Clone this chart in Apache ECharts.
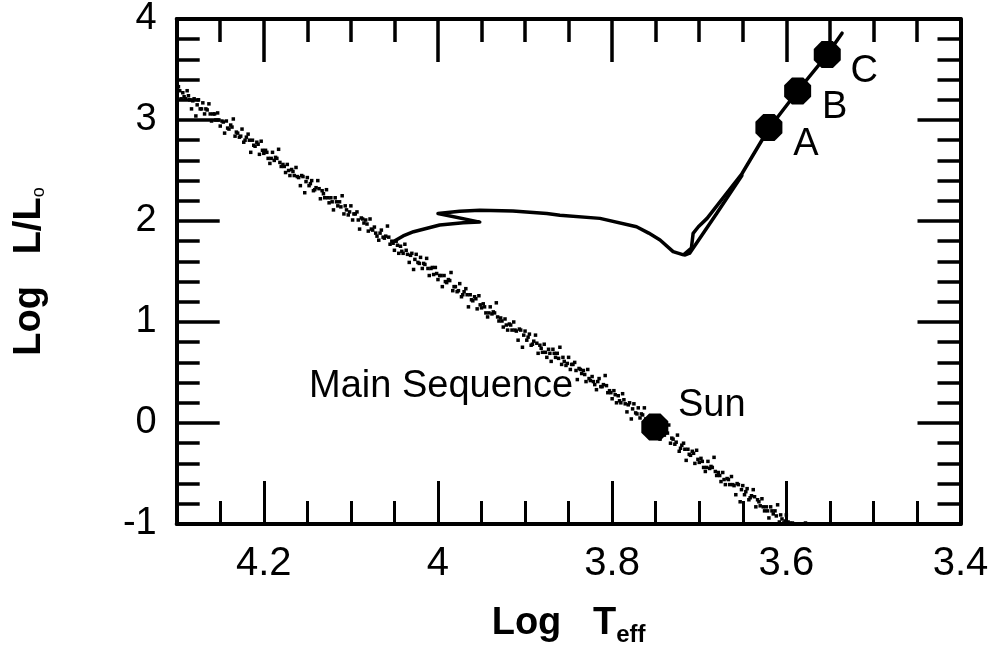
<!DOCTYPE html>
<html><head><meta charset="utf-8">
<script src="https://cdn.jsdelivr.net/npm/echarts@6/dist/echarts.min.js"></script>
<style>html,body{margin:0;padding:0;background:#fff}#c{width:995px;height:652px}</style>
</head><body><div id="c"></div>
<script>
// ---- axis ranges / ticks ----
const xMin = 3.4, xMax = 4.3, xStep = 0.2, xMinorSplit = 4;
const yMin = -1, yMax = 4, yStep = 1, yMinorSplit = 5;

// ---- main-sequence stars [log Teff, log L] ----
const msPoints = [
[4.298,3.33],[4.295,3.21],[4.293,3.27],[4.290,3.21],[4.288,3.29],[4.285,3.20],[4.283,3.11],[4.280,3.21],[4.278,3.04],[4.275,3.20],
[4.2965,3.29],[4.2915,3.23],[4.2865,3.24],[4.2815,3.19],[4.2765,3.15],
[4.273,3.11],[4.270,3.17],[4.268,3.06],[4.265,3.10],[4.263,3.16],[4.260,2.99],[4.258,3.06],[4.255,3.00],[4.253,3.07],[4.250,2.94],
[4.2715,3.11],[4.2665,3.11],[4.2615,3.06],[4.2565,3.06],[4.2515,3.00],
[4.248,2.99],[4.245,2.87],[4.243,2.99],[4.240,2.91],[4.238,2.95],[4.235,3.01],[4.233,2.84],[4.230,2.87],[4.228,2.83],[4.225,2.91],
[4.2465,2.98],[4.2415,2.92],[4.2365,2.93],[4.2315,2.88],[4.2265,2.84],
[4.223,2.78],[4.220,2.83],[4.218,2.86],[4.215,2.68],[4.213,2.80],[4.210,2.74],[4.208,2.78],[4.205,2.66],[4.203,2.79],[4.200,2.67],
[4.2215,2.80],[4.2165,2.80],[4.2115,2.75],[4.2065,2.76],[4.2015,2.70],
[4.198,2.70],[4.195,2.62],[4.193,2.57],[4.190,2.68],[4.188,2.60],[4.185,2.62],[4.183,2.71],[4.180,2.54],[4.178,2.56],[4.175,2.48],
[4.1965,2.68],[4.1915,2.62],[4.1865,2.63],[4.1815,2.58],[4.1765,2.54],
[4.173,2.56],[4.170,2.45],[4.168,2.51],[4.165,2.45],[4.163,2.53],[4.160,2.43],[4.158,2.35],[4.155,2.44],[4.153,2.28],[4.150,2.43],
[4.1715,2.50],[4.1665,2.49],[4.1615,2.44],[4.1565,2.45],[4.1515,2.39],
[4.148,2.35],[4.145,2.40],[4.143,2.30],[4.140,2.33],[4.138,2.40],[4.135,2.22],[4.133,2.30],[4.130,2.23],[4.128,2.31],[4.125,2.18],
[4.1465,2.37],[4.1415,2.31],[4.1365,2.32],[4.1315,2.27],[4.1265,2.23],
[4.123,2.23],[4.120,2.11],[4.118,2.23],[4.115,2.15],[4.113,2.19],[4.110,2.25],[4.108,2.07],[4.105,2.11],[4.103,2.06],[4.100,2.15],
[4.1215,2.19],[4.1165,2.19],[4.1115,2.14],[4.1065,2.15],[4.1015,2.09],
[4.098,2.01],[4.095,2.07],[4.093,2.09],[4.090,1.92],[4.088,2.03],[4.085,1.98],[4.083,2.01],[4.080,1.90],[4.078,2.02],[4.075,1.91],
[4.0965,2.07],[4.0915,2.01],[4.0865,2.02],[4.0815,1.97],[4.0765,1.92],
[4.073,1.94],[4.070,1.85],[4.068,1.81],[4.065,1.91],[4.063,1.84],[4.060,1.85],[4.058,1.95],[4.055,1.77],[4.053,1.80],[4.050,1.71],
[4.0715,1.88],[4.0665,1.88],[4.0615,1.83],[4.0565,1.84],[4.0515,1.78],
[4.048,1.80],[4.045,1.68],[4.043,1.75],[4.040,1.68],[4.038,1.77],[4.035,1.67],[4.033,1.59],[4.030,1.68],[4.028,1.52],[4.025,1.67],
[4.0465,1.76],[4.0415,1.70],[4.0365,1.71],[4.0315,1.66],[4.0265,1.62],
[4.023,1.59],[4.020,1.64],[4.018,1.53],[4.015,1.57],[4.013,1.63],[4.010,1.46],[4.008,1.53],[4.005,1.47],[4.003,1.54],[4.000,1.42],
[4.0215,1.58],[4.0165,1.58],[4.0115,1.53],[4.0065,1.54],[4.0015,1.48],
[3.998,1.46],[3.995,1.35],[3.993,1.46],[3.990,1.39],[3.988,1.42],[3.985,1.49],[3.983,1.31],[3.980,1.35],[3.978,1.30],[3.975,1.38],
[3.9965,1.46],[3.9915,1.40],[3.9865,1.41],[3.9815,1.35],[3.9765,1.31],
[3.973,1.25],[3.970,1.30],[3.968,1.33],[3.965,1.15],[3.963,1.27],[3.960,1.21],[3.958,1.25],[3.955,1.13],[3.953,1.26],[3.950,1.14],
[3.9715,1.27],[3.9665,1.27],[3.9615,1.22],[3.9565,1.23],[3.9515,1.17],
[3.948,1.18],[3.945,1.09],[3.943,1.05],[3.940,1.15],[3.938,1.08],[3.935,1.09],[3.933,1.19],[3.930,1.01],[3.928,1.04],[3.925,0.95],
[3.9465,1.15],[3.9415,1.09],[3.9365,1.10],[3.9315,1.05],[3.9265,1.01],
[3.923,1.03],[3.920,0.92],[3.918,0.98],[3.915,0.92],[3.913,1.00],[3.910,0.91],[3.908,0.82],[3.905,0.92],[3.903,0.75],[3.900,0.91],
[3.9215,0.97],[3.9165,0.97],[3.9115,0.92],[3.9065,0.93],[3.9015,0.87],
[3.898,0.82],[3.895,0.88],[3.893,0.77],[3.890,0.81],[3.888,0.87],[3.885,0.69],[3.883,0.77],[3.880,0.70],[3.878,0.78],[3.875,0.65],
[3.8965,0.85],[3.8915,0.78],[3.8865,0.79],[3.8815,0.74],[3.8765,0.70],
[3.873,0.73],[3.870,0.61],[3.868,0.73],[3.865,0.65],[3.863,0.69],[3.860,0.75],[3.858,0.58],[3.855,0.61],[3.853,0.57],[3.850,0.65],
[3.8715,0.69],[3.8665,0.69],[3.8615,0.64],[3.8565,0.65],[3.8515,0.59],
[3.848,0.53],[3.845,0.58],[3.843,0.60],[3.840,0.43],[3.838,0.54],[3.835,0.49],[3.833,0.52],[3.830,0.41],[3.828,0.53],[3.825,0.42],
[3.8465,0.58],[3.8415,0.52],[3.8365,0.53],[3.8315,0.48],[3.8265,0.44],
[3.823,0.46],[3.820,0.38],[3.818,0.33],[3.815,0.44],[3.813,0.36],[3.810,0.38],[3.808,0.47],[3.805,0.30],[3.803,0.32],[3.800,0.24],
[3.8215,0.41],[3.8165,0.41],[3.8115,0.36],[3.8065,0.37],[3.8015,0.30],
[3.798,0.32],[3.795,0.20],[3.793,0.27],[3.790,0.20],[3.788,0.29],[3.785,0.19],[3.783,0.11],[3.780,0.20],[3.778,0.04],[3.775,0.19],
[3.7965,0.28],[3.7915,0.22],[3.7865,0.23],[3.7815,0.18],[3.7765,0.14],
[3.773,0.10],[3.770,0.15],[3.768,0.05],[3.765,0.08],[3.763,0.15],[3.760,-0.03],[3.758,0.05],[3.755,-0.02],[3.753,0.06],[3.750,-0.07],
[3.7715,0.09],[3.7665,0.09],[3.7615,0.04],[3.7565,0.05],[3.7515,-0.01],
[3.748,-0.05],[3.745,-0.16],[3.743,-0.05],[3.740,-0.12],[3.738,-0.09],[3.735,-0.02],[3.733,-0.20],[3.730,-0.16],[3.728,-0.21],[3.725,-0.12],
[3.7465,-0.05],[3.7415,-0.11],[3.7365,-0.10],[3.7315,-0.15],[3.7265,-0.19],
[3.723,-0.28],[3.720,-0.22],[3.718,-0.20],[3.715,-0.37],[3.713,-0.26],[3.710,-0.32],[3.708,-0.28],[3.705,-0.40],[3.703,-0.27],[3.700,-0.39],
[3.7215,-0.25],[3.7165,-0.26],[3.7115,-0.31],[3.7065,-0.30],[3.7015,-0.36],
[3.698,-0.35],[3.695,-0.44],[3.693,-0.48],[3.690,-0.38],[3.688,-0.45],[3.685,-0.44],[3.683,-0.34],[3.680,-0.52],[3.678,-0.49],[3.675,-0.58],
[3.6965,-0.38],[3.6915,-0.44],[3.6865,-0.43],[3.6815,-0.48],[3.6765,-0.52],
[3.673,-0.49],[3.670,-0.61],[3.668,-0.55],[3.665,-0.61],[3.663,-0.53],[3.660,-0.62],[3.658,-0.71],[3.655,-0.61],[3.653,-0.78],[3.650,-0.62],
[3.6715,-0.56],[3.6665,-0.56],[3.6615,-0.61],[3.6565,-0.60],[3.6515,-0.66],
[3.648,-0.71],[3.645,-0.65],[3.643,-0.76],[3.640,-0.72],[3.638,-0.66],[3.635,-0.83],[3.633,-0.76],[3.630,-0.82],[3.628,-0.75],[3.625,-0.87],
[3.6465,-0.68],[3.6415,-0.74],[3.6365,-0.73],[3.6315,-0.78],[3.6265,-0.83],
[3.623,-0.83],[3.620,-0.94],[3.618,-0.83],[3.615,-0.90],[3.613,-0.87],[3.610,-0.81],[3.608,-0.98],[3.605,-0.95],[3.603,-0.99],[3.600,-0.91],
[3.6215,-0.87],[3.6165,-0.87],[3.6115,-0.92],[3.6065,-0.91],[3.6015,-0.97],
[3.598,-0.98],[3.596,-0.99],[3.593,-0.99],[3.578,-0.99]
];

// ---- evolutionary track ----
const trackT = [4.051,4.040,4.028,3.998,3.971,3.952,4.000,3.975,3.952,3.914,3.875,3.860,3.814,3.772,3.758,3.745,3.730,3.718,3.709,3.707,3.701,3.691,3.651,3.620,3.587,3.553,3.536];
const trackL = [1.796,1.852,1.894,1.960,1.982,1.989,2.075,2.097,2.107,2.100,2.075,2.058,2.026,1.943,1.880,1.812,1.697,1.665,1.731,1.878,1.943,2.026,2.468,2.916,3.287,3.648,3.860];
const branchT = [3.716,3.711,3.680,3.651];
const branchL = [1.665,1.681,2.075,2.451];

// ---- labelled stars ----
const giantNames = ['A','B','C'];
const giantT = [3.620,3.587,3.553];
const giantL = [2.926,3.287,3.648];
const sunName = ['Sun'];
const sunT = [3.751];
const sunL = [-0.04];
const noteText = ['Main Sequence'];
const noteT = [3.9965];
const noteL = [0.36];

const FONT = 'Liberation Sans, Arial, Helvetica, sans-serif';
const octagon = 'path://M29,0L71,0L100,29L100,71L71,100L29,100L0,71L0,29Z';

function axisBase(extra){
  return Object.assign({
    type:'value',
    axisLine:{show:true,onZero:false,lineStyle:{color:'#000',width:4}},
    axisTick:{show:true,inside:true,length:43,lineStyle:{color:'#000',width:3.5}},
    minorTick:{show:true,length:23,lineStyle:{color:'#000',width:3.5}},
    splitLine:{show:false},
    minorSplitLine:{show:false}
  }, extra);
}

const labelBase = {show:true,position:'inside',formatter:'{b}',color:'#000',opacity:1,
  fontSize:38,fontFamily:FONT,textBorderWidth:0};

const chart = echarts.init(document.getElementById('c'), null, {renderer:'canvas'});
const option = {
  animation:false,
  backgroundColor:'#fff',
  grid:{left:176.7,right:34.5,top:17.5,bottom:126},
  xAxis:[
    axisBase({position:'bottom',min:xMin,max:xMax,interval:xStep,inverse:true,
      minorTick:{show:true,splitNumber:xMinorSplit,length:23,lineStyle:{color:'#000',width:3}},
      axisTick:{show:true,inside:true,length:43,lineStyle:{color:'#000',width:3}},
      axisLabel:{show:true,margin:20,color:'#000',fontSize:40,fontFamily:FONT,
        formatter:v=> (Math.abs(v-xMax)<1e-6 ? '' : String(+v.toFixed(2)))},
      name:'{a|Log   T}{s|eff}',nameLocation:'middle',nameGap:77,
      nameTextStyle:{color:'#000',fontFamily:FONT,rich:{
        a:{fontSize:38,fontWeight:'bold',fontFamily:FONT,color:'#000'},
        s:{fontSize:24,fontWeight:'bold',fontFamily:FONT,color:'#000',padding:[22,0,0,0]}
      }}
    }),
    axisBase({position:'top',min:xMin,max:xMax,interval:xStep,inverse:true,
      minorTick:{show:true,splitNumber:xMinorSplit,length:23,lineStyle:{color:'#000',width:3.5}},
      axisLabel:{show:false}})
  ],
  yAxis:[
    axisBase({position:'left',min:yMin,max:yMax,interval:yStep,
      minorTick:{show:true,splitNumber:yMinorSplit,length:23,lineStyle:{color:'#000',width:3.5}},
      axisLabel:{show:true,margin:20,color:'#000',fontSize:38,fontFamily:FONT},
      name:'{a|Log   L/L}{s|o}',nameLocation:'middle',nameRotate:90,nameGap:128,
      nameTextStyle:{color:'#000',fontFamily:FONT,rich:{
        a:{fontSize:38,fontWeight:'bold',fontFamily:FONT,color:'#000'},
        s:{fontSize:18,fontFamily:FONT,color:'#000',padding:[18,0,0,0]}
      }}
    }),
    axisBase({position:'right',min:yMin,max:yMax,interval:yStep,
      minorTick:{show:true,splitNumber:yMinorSplit,length:23,lineStyle:{color:'#000',width:3.5}},
      axisLabel:{show:false}})
  ],
  series:[
    {type:'scatter',name:'main sequence',data:msPoints,symbol:'rect',symbolSize:3.5,
      itemStyle:{color:'#000',opacity:1},silent:true,z:2},
    {type:'line',name:'track',data:trackT.map((t,i)=>[t,trackL[i]]),showSymbol:false,
      lineStyle:{color:'#000',width:3.5,join:'round',cap:'round',opacity:1},silent:true,z:3},
    {type:'line',name:'branch',data:branchT.map((t,i)=>[t,branchL[i]]),showSymbol:false,
      lineStyle:{color:'#000',width:3.5,join:'round',cap:'round',opacity:1},silent:true,z:3},
    {type:'scatter',name:'giants',data:giantT.map((t,i)=>({name:giantNames[i],value:[t,giantL[i]]})),
      symbol:octagon,symbolSize:27,itemStyle:{color:'#000',opacity:1},z:5,silent:true,
      label:Object.assign({},labelBase,{offset:[37,17]})},
    {type:'scatter',name:'sun',data:sunT.map((t,i)=>({name:sunName[i],value:[t,sunL[i]]})),
      symbol:octagon,symbolSize:27,itemStyle:{color:'#000',opacity:1},z:5,silent:true,
      label:Object.assign({},labelBase,{offset:[57,-22]})},
    {type:'scatter',name:'note',data:noteT.map((t,i)=>({name:noteText[i],value:[t,noteL[i]]})),
      symbolSize:0,itemStyle:{color:'#000',opacity:1},z:6,silent:true,
      label:Object.assign({},labelBase)}
  ]
};
chart.setOption(option);
</script>
</body></html>
